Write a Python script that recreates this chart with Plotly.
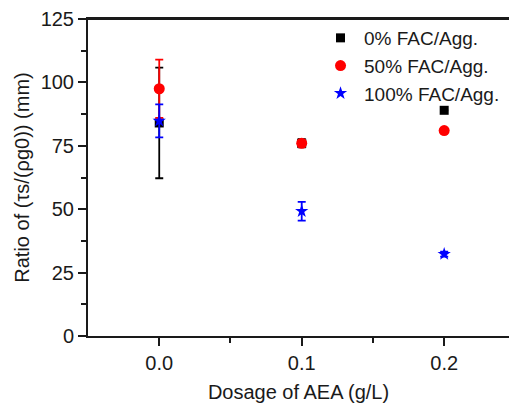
import plotly.graph_objects as go

dosage = [0.0, 0.1, 0.2]
fac0 = [84.0, 76.0, 89.0]
fac0_err = [21.8, 1.6, 0.0]
fac50 = [97.5, 76.0, 81.0]
fac50_err = [11.5, 1.2, 0.0]
fac100 = [84.8, 49.2, 32.3]
fac100_err = [6.5, 3.7, 1.0]

names = ["0% FAC/Agg.", "50% FAC/Agg.", "100% FAC/Agg."]
colors = ["#000000", "#ff0000", "#0000ff"]
symbols = ["square", "circle", "star"]
sizes = [9, 11, 10]

fig = go.Figure()
for y, e, n, c, s, sz in zip([fac0, fac50, fac100], [fac0_err, fac50_err, fac100_err],
                             names, colors, symbols, sizes):
    fig.add_trace(go.Scatter(
        x=dosage, y=y, mode="markers", name=n,
        marker=dict(color=c, symbol=s, size=sz, line=dict(width=0)),
        error_y=dict(type="data", array=e, color=c, thickness=1.8, width=4),
    ))

font = "Liberation Sans, Arial, sans-serif"
fig.update_layout(
    width=509, height=403,
    margin=dict(l=88, r=0, t=19, b=67, autoexpand=False),
    plot_bgcolor="white", paper_bgcolor="white",
    font=dict(family=font, size=20, color="#1a1a1a"),
    showlegend=True,
    legend=dict(x=0.544, y=1.0, xanchor="left", yanchor="top",
                bgcolor="rgba(0,0,0,0)", font=dict(size=19, family=font),
                itemwidth=37, tracegroupgap=0),
    xaxis=dict(
        range=[-0.05, 0.2455], tickvals=[0.0, 0.1, 0.2], ticktext=["0.0", "0.1", "0.2"],
        ticks="outside", ticklen=8, tickwidth=2, tickcolor="#1a1a1a",
        minor=dict(tickvals=[0.05, 0.15], ticks="outside", ticklen=5, tickwidth=2, tickcolor="#1a1a1a"),
        showline=True, linewidth=2, linecolor="#1a1a1a", mirror=True,
        showgrid=False, zeroline=False,
        title=dict(text="Dosage of AEA (g/L)", font=dict(size=20), standoff=14),
        tickfont=dict(size=20),
    ),
    yaxis=dict(
        range=[0, 125], tickvals=[0, 25, 50, 75, 100, 125],
        ticks="outside", ticklen=8, tickwidth=2, tickcolor="#1a1a1a",
        minor=dict(dtick=12.5, tick0=0, ticks="outside", ticklen=5, tickwidth=2, tickcolor="#1a1a1a"),
        showline=True, linewidth=2, linecolor="#1a1a1a",
        showgrid=False, zeroline=False,
        title=dict(text="Ratio of (τs/(ρg0)) (mm)", font=dict(size=20), standoff=6),
        tickfont=dict(size=20),
    ),
)
fig.add_shape(type="line", xref="paper", yref="paper", x0=0, x1=1, y0=1, y1=1,
              line=dict(color="#1a1a1a", width=2))
fig.write_html("out.html")
